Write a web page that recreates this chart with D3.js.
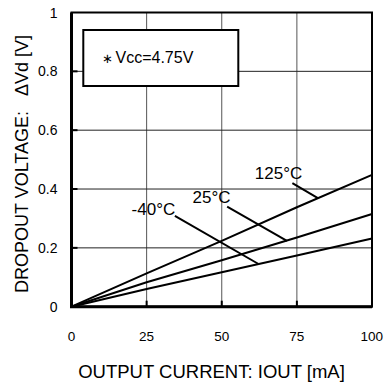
<!DOCTYPE html>
<html><head><meta charset="utf-8">
<script src="https://cdn.jsdelivr.net/npm/d3@7"></script>
<style>html,body{margin:0;padding:0;background:#fff;}svg{display:block;}</style>
</head><body>
<script>
const currents = [0, 25, 50, 75, 100];
const v125 = [0, 0.113, 0.224, 0.338, 0.448];
const v25 = [0, 0.083, 0.158, 0.235, 0.315];
const vm40 = [0, 0.060, 0.117, 0.174, 0.232];
const xTicks = [0, 25, 50, 75, 100];
const yTicks = [0, 0.2, 0.4, 0.6, 0.8, 1];
const yTickLabels = ["0", "0.2", "0.4", "0.6", "0.8", "1"];
const seriesNames = ["125°C", "25°C", "-40°C"];
// label anchor [mA, V], leader start [mA, V], leader end [mA, V]
const labelPos = [[61.0, 0.433], [40.3, 0.352], [20.0, 0.312]];
const leaderFrom = [[73.5, 0.420], [51.8, 0.340], [34.4, 0.309]];
const leaderTo = [[82.0, 0.369], [71.7, 0.224], [62.1, 0.146]];
const legendText = "Vcc=4.75V";
const xTitle = "OUTPUT CURRENT: IOUT [mA]";
const yTitle = "DROPOUT VOLTAGE:   ΔVd [V]";

const W = 385, H = 385;
const m = {l: 71.5, r: 13, t: 12.5, b: 78.3};
const svg = d3.select("body").append("svg").attr("width", W).attr("height", H);
const x = d3.scaleLinear().domain([0, 100]).range([m.l, W - m.r]);
const y = d3.scaleLinear().domain([0, 1]).range([H - m.b, m.t]);
const font = "Liberation Sans, Arial, sans-serif";

// gridlines
svg.append("g").selectAll("line").data(xTicks.slice(1, -1)).join("line")
  .attr("x1", d => x(d)).attr("x2", d => x(d)).attr("y1", y(0)).attr("y2", y(1))
  .attr("stroke", "#555").attr("stroke-width", 1);
svg.append("g").selectAll("line").data(yTicks.slice(1, -1)).join("line")
  .attr("y1", d => y(d)).attr("y2", d => y(d)).attr("x1", x(0)).attr("x2", x(100))
  .attr("stroke", "#222").attr("stroke-width", 1);

// inward tick marks
svg.append("g").selectAll("line").data(xTicks.slice(1, -1)).join("line")
  .attr("x1", d => x(d)).attr("x2", d => x(d)).attr("y1", y(0)).attr("y2", y(0) - 6)
  .attr("stroke", "#000").attr("stroke-width", 2);
svg.append("g").selectAll("line").data(yTicks.slice(1, -1)).join("line")
  .attr("y1", d => y(d)).attr("y2", d => y(d)).attr("x1", x(0)).attr("x2", x(0) + 6)
  .attr("stroke", "#000").attr("stroke-width", 2);

// frame
svg.append("rect").attr("x", x(0)).attr("y", y(1)).attr("width", x(100) - x(0)).attr("height", y(0) - y(1))
  .attr("fill", "none").attr("stroke", "#000").attr("stroke-width", 2);
svg.append("path").attr("d", `M${x(0)},${y(1)}V${y(0)}H${x(100)}`)
  .attr("fill", "none").attr("stroke", "#000").attr("stroke-width", 3);

// tick labels
svg.append("g").selectAll("text").data(yTicks).join("text")
  .attr("x", x(0) - 14).attr("y", d => y(d)).attr("dy", "0.36em")
  .attr("text-anchor", "end").attr("font-family", font).attr("font-size", 14)
  .text((d, i) => yTickLabels[i]);
svg.append("g").selectAll("text").data(xTicks).join("text")
  .attr("x", d => d === 100 ? 383 : x(d)).attr("y", 340.5)
  .attr("text-anchor", d => d === 100 ? "end" : "middle")
  .attr("font-family", font).attr("font-size", 13.5)
  .text(d => d);

// titles
svg.append("text").attr("x", 211.5).attr("y", 378)
  .attr("text-anchor", "middle").attr("font-family", font).attr("font-size", 18.5).text(xTitle);
svg.append("text").attr("transform", `translate(28,164) rotate(-90)`)
  .attr("text-anchor", "middle").attr("font-family", font).attr("font-size", 18)
  .style("white-space", "pre").text(yTitle);

// series
const line = d3.line().x(d => x(d[0])).y(d => y(d[1]));
[v125, v25, vm40].forEach(vals => {
  svg.append("path").datum(currents.map((c, i) => [c, vals[i]])).attr("d", line)
    .attr("fill", "none").attr("stroke", "#000").attr("stroke-width", 2);
});

// labels + leaders
seriesNames.forEach((n, i) => {
  svg.append("line").attr("x1", x(leaderFrom[i][0])).attr("y1", y(leaderFrom[i][1]))
    .attr("x2", x(leaderTo[i][0])).attr("y2", y(leaderTo[i][1]))
    .attr("stroke", "#000").attr("stroke-width", 2);
  svg.append("text").attr("x", x(labelPos[i][0])).attr("y", y(labelPos[i][1]))
    .attr("font-family", font).attr("font-size", 17).text(n);
});

// legend box
svg.append("rect").attr("x", 83.3).attr("y", 30).attr("width", 155).attr("height", 56)
  .attr("fill", "#fff").attr("stroke", "#000").attr("stroke-width", 2);
svg.append("text").attr("x", 107.5).attr("y", 58).attr("dy", "0.38em").attr("text-anchor", "middle")
  .attr("font-family", "DejaVu Sans, sans-serif").attr("font-size", 13).text("∗");
svg.append("text").attr("x", 115.5).attr("y", 63).attr("font-family", font).attr("font-size", 16).text(legendText);
</script>
</body></html>
